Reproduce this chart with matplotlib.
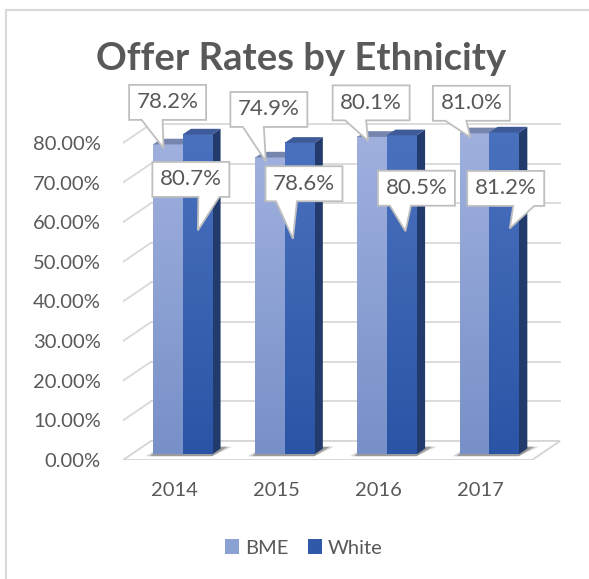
import numpy as np
import matplotlib
matplotlib.use("Agg")
import matplotlib.pyplot as plt
import matplotlib.transforms as mtransforms
from matplotlib.patches import Polygon, Rectangle, Patch
from matplotlib.colors import LinearSegmentedColormap

years = ["2014", "2015", "2016", "2017"]
bme = [78.2, 74.9, 80.1, 81.0]
white = [80.7, 78.6, 80.5, 81.2]
yticks = [0, 10, 20, 30, 40, 50, 60, 70, 80]

# callout layout (pixel offsets of box centre from pointer tip, base pos on bottom edge)
bme_box = [(4, 46), (3, 52), (3, 38), (1, 34)]
white_box = [(-7, 51), (11, 55), (11, 43), (-4, 40)]
white_tip = [0.15, 0.08, 0.18, 0.20]
bme_base = [-15.5, -15.5, -15.5, -15.5]
white_base = [18, -17.5, -16, 18]

plt.rcParams["font.family"] = ["Lato", "DejaVu Sans"]
grey = "#595959"

fig = plt.figure(figsize=(5.89, 5.79), dpi=100)
ax = fig.add_axes([123 / 589, 1 - 460 / 579, 4.3 * 102.25 / 589, 100 * 3.9625 / 579])

# 3d look: depth of the floor in data units, bars sit between F0 and F1
DX, DY = 0.274, 4.8
F0, F1 = 0.3, 0.6
W = 0.29

# floor + walls
ax.add_patch(Rectangle((-0.5, -0.6), 4.0, 0.6, fc="#e3e3e3", ec="none", zorder=1))
ax.add_patch(Polygon([(-0.5, 0), (3.5, 0), (3.5 + DX, DY), (-0.5 + DX, DY)],
                     closed=True, fc="white", ec="#d4d4d4", lw=1.3, zorder=1))
for v in yticks[1:]:
    ax.plot([-0.5 + DX, 3.5 + DX], [v + DY, v + DY], color="#d9d9d9", lw=1.3, zorder=1)
    ax.plot([-0.5, -0.5 + DX], [v, v + DY], color="#d9d9d9", lw=1.3, zorder=1)

bme_cmap = LinearSegmentedColormap.from_list("bme", ["#7890c8", "#9fb0de"])
white_cmap = LinearSegmentedColormap.from_list("white", ["#2a55a6", "#4a71be"])
grad = np.linspace(0, 1, 256).reshape(-1, 1)

ddx, ddy = (F1 - F0) * DX, (F1 - F0) * DY


def bar3d(xl, v, cmap, top_col, side_col, z):
    y0 = F0 * DY
    y1 = v + F0 * DY
    xr = xl + W
    ax.add_patch(Polygon([(xr, y0), (xr, y1), (xr + ddx, y1 + ddy), (xr + ddx, y0 + ddy)],
                         closed=True, fc=side_col, ec="none", zorder=z))
    ax.imshow(grad, extent=(xl, xr, y0, y1), cmap=cmap, aspect="auto", origin="lower",
              interpolation="bilinear", zorder=z)
    ax.add_patch(Polygon([(xl, y1), (xr, y1), (xr + ddx, y1 + ddy), (xl + ddx, y1 + ddy)],
                         closed=True, fc=top_col, ec="none", zorder=z))
    return y1


def callout(x, y, text, dx, dy, base):
    hw, hh, bw = 38.5, 17.5, 10.5
    verts = [(dx - hw, dy + hh), (dx + hw, dy + hh), (dx + hw, dy - hh),
             (dx + base + bw, dy - hh), (0, 0), (dx + base - bw, dy - hh),
             (dx - hw, dy - hh)]
    tr = mtransforms.Affine2D().scale(fig.dpi / 100) + mtransforms.ScaledTranslation(x, y, ax.transData)
    ax.add_patch(Polygon(verts, closed=True, transform=tr, fc="white", ec="#bfbfbf",
                         lw=1.3, zorder=10, clip_on=False))
    ax.annotate(text, xy=(x, y), xytext=(dx, dy), textcoords="offset pixels",
                ha="center", va="center", fontsize=16, color=grey, zorder=11)


for i in range(len(years)):
    xb = i - W + F0 * DX
    xw = i + F0 * DX
    # soft shadow on the floor
    for k, a in [(0.07, 0.2), (0.03, 0.35)]:
        ax.add_patch(Polygon([(xb - k, 0.2 * DY), (xw + W, 0.2 * DY),
                              (xw + W + ddx + k + 0.04, 0.7 * DY), (xb + ddx, 0.7 * DY)],
                             closed=True, fc="#303030", ec="none", alpha=a, zorder=2))
    tb = bar3d(xb, bme[i], bme_cmap, "#7585ae", "#5f6f9c", 3 + i)
    tw = bar3d(xw, white[i], white_cmap, "#3f5a98", "#223a6c", 3 + i)
    callout(xb + 0.105, tb - 1.0, "%.1f%%" % bme[i], bme_box[i][0], bme_box[i][1], bme_base[i])
    callout(xw + white_tip[i], tw - 24.2, "%.1f%%" % white[i], white_box[i][0], white_box[i][1],
            white_base[i])

ax.set_xlim(-0.5, 3.8)
ax.set_ylim(0, 100)
ax.set_xticks(range(len(years)))
ax.set_xticklabels(years, fontsize=14.5, color=grey)
ax.set_yticks(yticks)
ax.set_yticklabels(["%.2f%%" % v for v in yticks], fontsize=14.5, color=grey)
ax.tick_params(length=0)
ax.tick_params(axis="y", pad=16)
ax.tick_params(axis="x", pad=16)
for s in ax.spines.values():
    s.set_visible(False)

fig.text(0.511, 1 - 70 / 579, "Offer Rates by Ethnicity", ha="center", va="baseline",
         fontsize=27.5, fontweight="bold", color=grey)

handles = [Patch(fc="#8ba0d3", ec="none", label="BME"),
           Patch(fc="#3159a9", ec="none", label="White")]
fig.legend(handles=handles, loc="center", bbox_to_anchor=(0.516, 1 - 548 / 579), ncol=2,
           frameon=False, fontsize=14.5, handlelength=0.7, handleheight=0.7,
           handletextpad=0.3, columnspacing=0.95, labelcolor=grey)

fig.patches.append(Rectangle((6 / 589, -0.05), 1.1, 1 - 10 / 579 + 0.05, transform=fig.transFigure,
                             fill=False, ec="#d9d9d9", lw=1.5))

fig.savefig("out.png", dpi=100)
